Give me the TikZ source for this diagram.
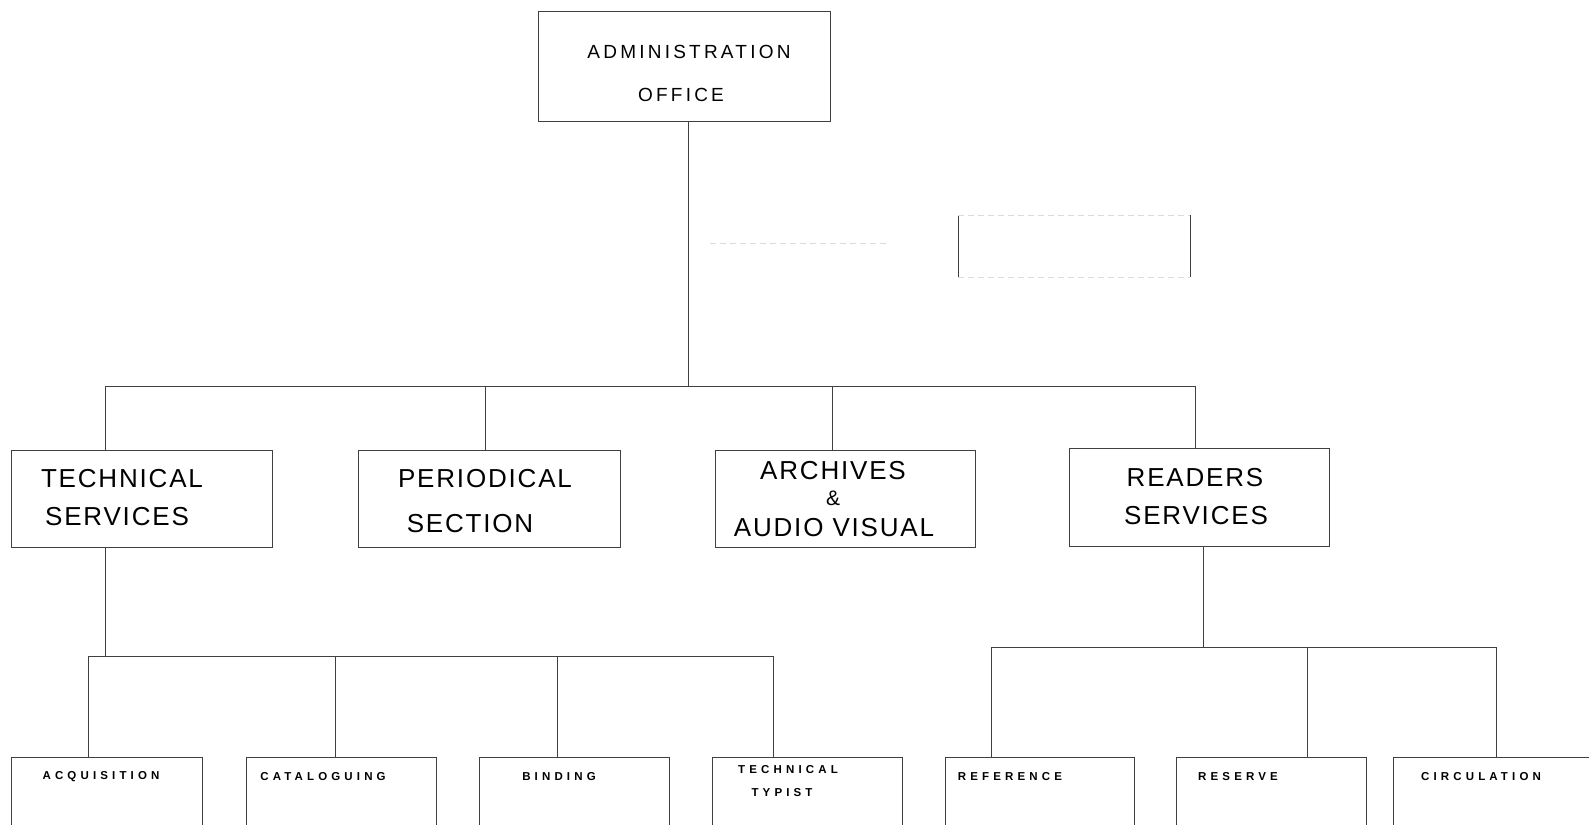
\documentclass[tikz,border=0pt]{standalone}
\usepackage{fontspec}
\setmainfont{Liberation Sans}
\newfontfamily\admf[LetterSpace=17]{Liberation Sans}
\newfontfamily\bigf[LetterSpace=7]{Liberation Sans}
\newfontfamily\smf[LetterSpace=36]{Liberation Sans}
\begin{document}
\begin{tikzpicture}[x=1pt,y=-1pt,
  box/.style={draw=black!75,line width=0.9pt,inner sep=0pt,outer sep=0pt},
  conn/.style={draw=black!75,line width=0.9pt},
  faint/.style={draw=black!14,line width=0.8pt,dash pattern=on 6pt off 4pt},
  adm/.style={font=\admf\fontsize{19}{22}\selectfont,inner sep=0pt},
  big/.style={font=\bigf\fontsize{26}{30}\selectfont,inner sep=0pt},
  sm/.style={font=\smf\bfseries\fontsize{11.5}{13}\selectfont,inner sep=0pt}]
\useasboundingbox (0,0) rectangle (1589,824);
\clip (0,0) rectangle (1589,824);
% boxes (corner to corner)
\node[box,minimum width=292pt,minimum height=110pt,anchor=north west] (adm) at (538,11) {};
\node[box,minimum width=261pt,minimum height=97pt,anchor=north west] (tech) at (11,450) {};
\node[box,minimum width=262pt,minimum height=97pt,anchor=north west] (peri) at (358,450) {};
\node[box,minimum width=260pt,minimum height=97pt,anchor=north west] (arch) at (715,450) {};
\node[box,minimum width=260pt,minimum height=98pt,anchor=north west] (read) at (1069,448) {};
\node[box,minimum width=191pt,minimum height=100pt,anchor=north west] (acq) at (11,757) {};
\node[box,minimum width=190pt,minimum height=100pt,anchor=north west] (cat) at (246,757) {};
\node[box,minimum width=190pt,minimum height=100pt,anchor=north west] (bind) at (479,757) {};
\node[box,minimum width=190pt,minimum height=100pt,anchor=north west] (typ) at (712,757) {};
\node[box,minimum width=189pt,minimum height=100pt,anchor=north west] (ref) at (945,757) {};
\node[box,minimum width=190pt,minimum height=100pt,anchor=north west] (res) at (1176,757) {};
\node[box,minimum width=210pt,minimum height=100pt,anchor=north west] (circ) at (1393,757) {};
% faint ghost box
\node[inner sep=0pt,minimum width=232pt,minimum height=62pt,anchor=north west] (ghost) at (958,215) {};
\draw[conn] (ghost.north west) -- (ghost.south west);
\draw[conn] (ghost.north east) -- (ghost.south east);
\draw[faint] (ghost.north west) -- (ghost.north east);
\draw[faint] (ghost.south west) -- (ghost.south east);
\coordinate (g1) at (710,243);
\coordinate (g2) at (890,243);
\draw[faint] (g1) -- (g2);
% texts
\node[adm] (t1) at (689,52) {ADMINISTRATION};
\node[adm] (t2) at (681,95) {OFFICE};
\node[big] (t3) at (122,479) {TECHNICAL};
\node[big] (t4) at (117,517) {SERVICES};
\node[big] (t5) at (485,479) {PERIODICAL};
\node[big] (t6) at (470,524) {SECTION};
\node[big] (t7) at (833,471) {ARCHIVES};
\node[big,font=\bigf\fontsize{21}{24}\selectfont] (t8) at (833,498) {\&};
\node[big] (t9) at (834,528) {AUDIO VISUAL};
\node[big] (t10) at (1195,478) {READERS};
\node[big] (t11) at (1196,516) {SERVICES};
\node[sm] (t12) at (101,777) {ACQUISITION};
\node[sm] (t13) at (323,777) {CATALOGUING};
\node[sm] (t14) at (559,777) {BINDING};
\node[sm] (t15) at (788,770) {TECHNICAL};
\node[sm] (t16) at (782,793) {TYPIST};
\node[sm] (t17) at (1010,777) {REFERENCE};
\node[sm] (t18) at (1238,777) {RESERVE};
\node[sm] (t19) at (1481,777) {CIRCULATION};
% junctions
\coordinate (j1) at (688,386);
\coordinate (j2) at (105,656);
\coordinate (j3) at (1203,647);
% connectors
\draw[conn] (adm.south -| j1) -- (j1);
\draw[conn] (j1) -| (tech.north -| 105,0);
\draw[conn] (j1) -| (read.north -| 1195,0);
\draw[conn] (j1 -| 485,0) -- (peri.north -| 485,0);
\draw[conn] (j1 -| 832,0) -- (arch.north -| 832,0);
\draw[conn] (tech.south -| j2) -- (j2);
\draw[conn] (j2) -- (j2 -| 88,0) -- (acq.north -| 88,0);
\draw[conn] (j2) -| (typ.north -| 773,0);
\draw[conn] (j2 -| 335,0) -- (cat.north -| 335,0);
\draw[conn] (j2 -| 557,0) -- (bind.north -| 557,0);
\draw[conn] (read.south -| j3) -- (j3);
\draw[conn] (j3) -| (ref.north -| 991,0);
\draw[conn] (j3) -| (circ.north -| 1496,0);
\draw[conn] (j3 -| 1307,0) -- (res.north -| 1307,0);
\end{tikzpicture}
\end{document}
